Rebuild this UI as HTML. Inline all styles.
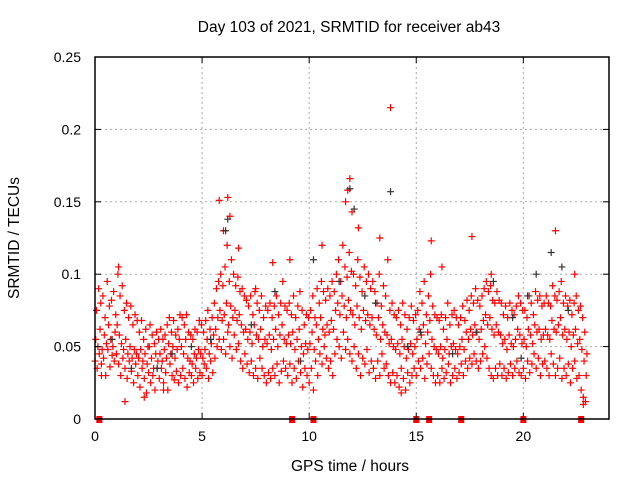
<!DOCTYPE html>
<html><head><meta charset="utf-8"><style>
body{margin:0;background:#fff;}
svg{display:block;font-family:"Liberation Sans",sans-serif;}
</style></head><body>
<svg id="chart" width="640" height="480">
<text x="349" y="32" text-anchor="middle" font-size="15.5">Day 103 of 2021, SRMTID for receiver ab43</text>
<text x="350" y="471" text-anchor="middle" font-size="15.5">GPS time / hours</text>
<text transform="translate(19,238) rotate(-90)" text-anchor="middle" font-size="15.5">SRMTID / TECUs</text>
<g id="grid"></g><g id="marks"></g><g id="axes"></g>
</svg>
<script>
const xTicks=[0,5,10,15,20];
const yTicks=[0,0.05,0.1,0.15,0.2,0.25];
const yTickLabels=["0","0.05","0.1","0.15","0.2","0.25"];
const seriesLow=[40,35,45,38,42,30,48,36,44,40,45,38,30,42,35,28,40,33,25,38,30,22,35,28,18,32,25,30,20,35,28,35,25,32,20,38,30,27,33,25,30,35,28,22,32,30,25,35,28,32,30,38,35,28,40,32,42,50,55,48,55,45,60,50,42,58,48,52,40,35,45,38,32,40,30,35,28,42,35,30,25,32,28,35,30,38,25,33,40,35,30,38,25,35,28,40,32,22,35,30,25,35,20,40,30,45,38,50,42,35,40,30,45,55,50,42,60,48,55,45,40,50,35,45,30,42,38,48,32,40,35,28,40,30,45,35,38,30,25,32,25,30,22,35,28,20,32,25,30,35,30,40,35,42,28,38,45,35,30,25,30,25,35,28,32,38,25,30,35,28,32,38,30,40,35,42,38,45,40,35,40,45,50,42,35,30,28,35,30,38,30,35,28,32,38,30,35,40,32,30,35,28,40,32,38,45,35,42,30,38,40,35,30,45,38,30,35,42,28,35,30,38,25,35,40,28,30,20,15,12];
const seriesMid=[55,50,62,48,58,52,65,55,50,60,65,58,52,48,55,45,50,42,48,45,42,48,40,45,38,50,42,35,45,40,45,40,48,42,52,45,50,42,48,55,50,45,55,42,40,38,45,42,48,45,42,48,55,45,52,58,62,70,75,68,72,80,65,78,70,75,68,72,65,60,62,55,60,52,65,58,55,62,50,55,52,58,48,55,62,50,58,65,55,52,58,52,60,48,55,62,50,45,52,48,52,60,48,65,55,70,62,58,65,60,68,62,75,80,72,85,78,70,82,75,72,65,78,70,62,75,68,72,65,70,62,58,70,55,65,60,58,52,55,50,48,52,45,55,50,42,48,52,45,50,55,62,58,65,52,60,68,55,50,48,45,50,42,48,55,45,50,52,48,45,50,55,48,60,55,62,58,65,60,55,62,68,72,65,70,62,58,65,60,58,52,55,48,58,52,50,55,62,58,52,55,50,62,58,52,65,60,62,55,58,62,58,55,68,62,60,65,70,58,62,55,60,50,58,62,52,55,48,40,30];
const seriesHigh=[75,90,80,85,70,95,78,82,88,72,100,85,92,75,80,70,78,65,72,68,60,68,55,62,50,65,58,52,60,55,62,55,58,65,70,60,68,58,62,72,70,65,72,60,58,55,62,60,68,65,60,68,75,62,70,80,90,95,100,92,105,120,95,110,100,92,98,88,90,85,82,78,85,72,88,80,75,85,70,78,75,80,70,78,85,72,80,95,78,75,80,72,85,70,78,88,75,65,72,70,75,85,70,90,80,95,88,82,90,85,95,88,100,110,95,120,105,98,115,102,100,92,110,98,88,105,95,100,90,95,88,80,100,78,92,85,110,75,80,72,70,75,65,80,72,62,70,78,68,72,75,88,80,95,72,85,100,78,72,70,68,72,62,70,80,65,72,75,70,65,70,78,68,82,75,85,80,90,82,78,85,90,95,88,92,82,80,88,82,80,72,78,70,80,75,72,78,85,80,75,75,70,85,80,72,88,82,85,78,80,85,80,78,92,85,82,88,95,80,85,78,82,72,80,85,75,78,70,60,45];
const extraTimes=[5.8,6.2,6.3,6.0,11.9,11.8,11.7,12.0,13.8,13.3,12.3,15.7,17.6,21.5,6.7,10.6,16.2,9.1,8.3,22.4,1.1,18.5,0.3,1.4,2.3,22.8,7.5,3.2,14.3];
const extraVals=[151,153,140,130,166,158,150,143,215,125,132,123,126,130,118,120,105,110,108,100,105,100,30,12,15,10,90,20,18];
const blackTimes=[13.8,11.9,12.1,6.1,6.2,18.6,20.6,21.3,21.8,8.4,10.2,4.5,2.9,0.8,15.2,16.7,19.5,22.1,12.6,13.1,7.3,5.4,9.6,17.8,3.6,1.7,14.6,20.2,11.4,19.9];
const blackVals=[157,159,145,130,138,95,100,115,105,88,110,50,35,55,60,45,70,75,85,80,65,55,40,60,45,35,50,85,95,42];
const flagTimes=[0.2,9.2,10.2,15.0,15.6,17.1,20.0,22.7];

const X0=95,X1=609,Y0=419,Y1=57;
const xs=h=>X0+(h/24)*(X1-X0);
const ys=v=>Y0-(v/0.25)*(Y0-Y1);
const NS="http://www.w3.org/2000/svg";
function mk(tag,attrs,parent){const e=document.createElementNS(NS,tag);for(const k in attrs)e.setAttribute(k,attrs[k]);parent.appendChild(e);return e;}
const grid=document.getElementById('grid'),marks=document.getElementById('marks'),axes=document.getElementById('axes');
xTicks.forEach(t=>{if(t>0){const l=mk('line',{x1:xs(t),x2:xs(t),y1:Y0,y2:Y1,stroke:'#aaa','stroke-dasharray':'2,3'},grid);

}
const tx=mk('text',{x:xs(t),y:Y0+22,'text-anchor':'middle','font-size':14},axes);tx.textContent=t;


mk('line',{x1:xs(t),x2:xs(t),y1:Y0,y2:Y0-6,stroke:'#000'},axes);mk('line',{x1:xs(t),x2:xs(t),y1:Y1,y2:Y1+6,stroke:'#000'},axes);});
yTicks.forEach((t,i)=>{if(t>0&&t<0.25){const l=mk('line',{x1:X0,x2:X1,y1:ys(t),y2:ys(t),stroke:'#aaa','stroke-dasharray':'2,3'},grid);

}
const tx=mk('text',{x:X0-14,y:ys(t)+5,'text-anchor':'end','font-size':14},axes);tx.textContent=yTickLabels[i];


mk('line',{x1:X0,x2:X0+6,y1:ys(t),y2:ys(t),stroke:'#000'},axes);mk('line',{x1:X1,x2:X1-6,y1:ys(t),y2:ys(t),stroke:'#000'},axes);});
const fr=mk('rect',{x:X0,y:Y1,width:X1-X0,height:Y0-Y1,fill:'none',stroke:'#000','stroke-width':1.5},axes);


function plus(h,v,color,name){const x=xs(h),y=ys(v/1000);
const p=mk('path',{d:`M${x-3.5},${y}H${x+3.5}M${x},${y-3.5}V${y+3.5}`,stroke:color,'stroke-width':1.2,fill:'none'},marks);

}
[[seriesLow,0.0],[seriesMid,0.035],[seriesHigh,0.07]].forEach(([arr,off])=>arr.forEach((v,i)=>plus(i*0.1+off,v,'#f00','srmtid-point')));
extraTimes.forEach((t,i)=>plus(t,extraVals[i],'#f00','srmtid-point'));
blackTimes.forEach((t,i)=>plus(t,blackVals[i],'#333','srmtid-point-alt'));
flagTimes.forEach(t=>{const r=mk('rect',{x:xs(t)-3,y:Y0-3,width:6,height:7,fill:'#f00'},marks);

});
</script>
</body></html>
